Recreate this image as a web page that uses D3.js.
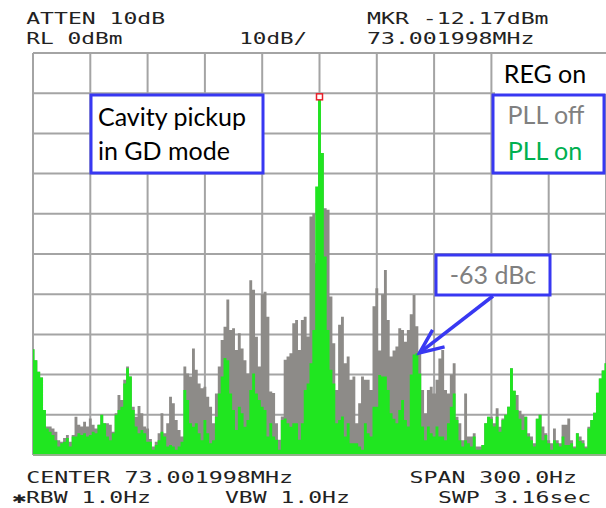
<!DOCTYPE html>
<html>
<head>
<meta charset="utf-8">
<script src="https://cdn.jsdelivr.net/npm/d3@7"></script>
<style>
  body { margin: 0; background: #fff; }
  svg { display: block; }
</style>
</head>
<body>
<svg id="chart"></svg>
<script>
// trace levels in dBm, 201 sweep points across the 300 Hz span
const pllOff = [
  -73.7, -76.4, -79.3, -80.7, -88.8, -92.9, -92.9, -93.4, -94.2, -96.3,
  -96.7, -95.8, -95.0, -96.7, -95.0, -90.5, -92.5, -92.9, -91.7, -92.9,
  -90.9, -92.5, -93.4, -92.5, -90.0, -92.1, -92.1, -92.5, -94.2, -89.6,
  -85.1, -86.3, -81.3, -78.0, -80.5, -88.0, -90.5, -87.8, -89.6, -92.9,
  -93.4, -96.0, -97.9, -96.7, -94.6, -89.6, -94.6, -92.1, -85.5, -87.1,
  -91.3, -93.8, -95.4, -78.0, -79.7, -80.5, -73.5, -78.8, -82.2, -83.4,
  -83.0, -85.5, -88.0, -92.1, -84.7, -78.0, -71.4, -68.1, -61.3, -68.9,
  -68.5, -73.9, -69.7, -73.5, -76.4, -79.7, -56.5, -58.9, -70.6, -78.0,
  -60.0, -59.4, -65.6, -84.2, -84.6, -92.1, -96.2, -90.4, -76.3, -75.5,
  -74.7, -67.2, -66.4, -73.9, -66.4, -65.6, -70.5, -40.7, -39.9, -52.3,
  -10.9, -24.9, -38.6, -39.0, -60.6, -72.2, -83.8, -67.6, -65.6, -77.2,
  -75.5, -81.3, -80.5, -92.1, -87.1, -80.5, -81.3, -81.3, -83.8, -63.0,
  -58.5, -74.0, -60.0, -54.0, -66.4, -75.5, -74.0, -73.0, -68.5, -68.9,
  -71.8, -68.9, -65.0, -60.2, -68.0, -74.3, -83.8, -89.6, -83.8, -83.0,
  -84.7, -81.3, -76.0, -73.9, -83.8, -84.7, -80.0, -77.2, -90.5, -92.1,
  -96.3, -84.7, -95.4, -95.4, -94.6, -97.9, -97.9, -97.5, -92.1, -90.5,
  -90.5, -92.1, -88.4, -93.0, -90.9, -90.0, -88.0, -78.4, -84.0, -85.1,
  -89.0, -90.0, -90.5, -94.6, -95.4, -97.1, -91.0, -90.0, -92.9, -94.6,
  -96.3, -97.1, -93.4, -96.3, -97.1, -92.5, -92.5, -90.9, -96.3, -97.9,
  -94.6, -95.4, -96.3, -97.9, -93.0, -91.3, -89.5, -84.5, -81.0, -79.0,
  -77.2
];

const pllOn = [
  -73.7, -76.4, -79.3, -80.7, -88.8, -93.4, -94.2, -95.0, -96.3, -97.9,
  -97.1, -96.7, -95.8, -97.9, -95.4, -95.4, -94.6, -95.0, -94.6, -95.4,
  -95.0, -94.2, -94.6, -92.5, -90.0, -92.1, -95.4, -96.3, -94.6, -90.0,
  -88.8, -88.0, -82.2, -78.4, -80.5, -88.8, -92.9, -94.6, -93.8, -94.6,
  -96.7, -96.7, -98.7, -97.5, -96.3, -94.2, -95.4, -97.9, -97.5, -97.9,
  -98.7, -97.9, -96.7, -83.8, -86.3, -92.1, -93.0, -92.1, -94.6, -96.3,
  -91.3, -94.6, -97.1, -96.3, -90.5, -84.7, -80.5, -75.9, -76.4, -84.7,
  -88.8, -93.8, -88.0, -89.6, -93.0, -91.3, -83.8, -79.7, -84.7, -86.3,
  -88.0, -88.8, -95.4, -92.1, -95.4, -96.2, -98.7, -91.3, -90.9, -92.1,
  -93.0, -92.1, -92.1, -96.2, -92.1, -83.8, -82.2, -77.2, -68.9, -33.2,
  -10.9, -24.9, -50.6, -68.9, -78.8, -82.2, -92.1, -91.3, -90.4, -95.4,
  -92.1, -97.1, -97.1, -97.1, -97.9, -98.7, -92.1, -94.6, -95.4, -88.0,
  -88.0, -80.1, -80.5, -80.5, -83.8, -89.6, -91.0, -92.1, -88.8, -86.3,
  -91.3, -92.9, -80.0, -75.0, -74.7, -79.7, -92.9, -96.3, -92.9, -94.6,
  -95.4, -92.9, -95.4, -95.4, -96.3, -92.1, -88.0, -84.7, -91.3, -96.3,
  -97.9, -96.3, -97.1, -97.9, -95.4, -98.7, -98.7, -97.5, -92.1, -90.5,
  -91.0, -92.9, -90.5, -94.2, -91.3, -90.0, -88.0, -78.4, -84.0, -88.8,
  -91.0, -93.8, -90.5, -95.4, -96.3, -97.9, -91.0, -90.0, -96.3, -95.0,
  -97.1, -98.7, -96.3, -97.1, -97.9, -95.4, -97.5, -97.5, -97.1, -98.3,
  -94.6, -96.5, -97.1, -98.3, -93.4, -91.3, -89.5, -84.5, -81.0, -79.0,
  -77.2
];

const span = 300;          // Hz
const refLevel = 0;        // dBm
const dbPerDiv = 10;
const divisions = 10;

const headerTop = [
  { text: "ATTEN 10dB", col: 1, line: 0 },
  { text: "MKR -12.17dBm", col: 25, line: 0 },
  { text: "RL 0dBm", col: 1, line: 1 },
  { text: "10dB/", col: 16, line: 1 },
  { text: "73.001998MHz", col: 25, line: 1 }
];
const headerBottom = [
  { text: "CENTER 73.001998MHz", col: 1, line: 0 },
  { text: "SPAN 300.0Hz", col: 28, line: 0 },
  { text: "\u2731RBW 1.0Hz", col: 0, line: 1 },
  { text: "VBW 1.0Hz", col: 15, line: 1 },
  { text: "SWP 3.16sec", col: 30, line: 1 }
];

const width = 606, height = 508;
const plot = { left: 33, right: 606, top: 53, bottom: 455 };

const svg = d3.select("#chart")
  .attr("width", width)
  .attr("height", height);

const freqs = pllOn.map((d, i) => -span / 2 + i * span / (pllOn.length - 1));

const x = d3.scaleLinear()
  .domain([-span / 2, span / 2])
  .range([plot.left, plot.right]);

const y = d3.scaleLinear()
  .domain([refLevel - dbPerDiv * divisions, refLevel])
  .range([plot.bottom, plot.top]);

// grid
const grid = svg.append("g").attr("class", "grid");
grid.selectAll("line.v")
  .data(d3.range(divisions + 1).map(k => -span / 2 + k * span / divisions))
  .join("line")
  .attr("class", "v")
  .attr("x1", d => x(d)).attr("x2", d => x(d))
  .attr("y1", plot.top).attr("y2", plot.bottom)
  .attr("stroke", "#a4a4a4").attr("stroke-width", 2);
grid.selectAll("line.h")
  .data(d3.range(divisions + 1).map(k => refLevel - k * dbPerDiv))
  .join("line")
  .attr("class", "h")
  .attr("x1", plot.left).attr("x2", plot.right)
  .attr("y1", d => y(d)).attr("y2", d => y(d))
  .attr("stroke", "#a4a4a4").attr("stroke-width", 2);

// traces, filled down to the bottom of the screen
const area = d3.area()
  .x((d, i) => x(freqs[i]))
  .y0(y(refLevel - dbPerDiv * divisions))
  .y1(d => y(d))
  .curve(d3.curveStep);

svg.append("path")
  .datum(pllOff)
  .attr("d", area)
  .attr("fill", "#8d8b88");

svg.append("path")
  .datum(pllOn)
  .attr("d", area)
  .attr("fill", "#20e620");

// bottom edge of the screen
svg.append("line")
  .attr("x1", plot.left).attr("x2", plot.right)
  .attr("y1", plot.bottom).attr("y2", plot.bottom)
  .attr("stroke", "#93b08a").attr("stroke-width", 2);

// marker on the carrier
const peakIdx = d3.maxIndex(pllOn);
svg.append("rect")
  .attr("x", x(freqs[peakIdx]) - 3)
  .attr("y", y(pllOn[peakIdx]) - 3)
  .attr("width", 6).attr("height", 6)
  .attr("fill", "#fff")
  .attr("stroke", "#e8202a").attr("stroke-width", 1.5);

// analyzer header / footer text
const cell = 14.2;
function header(list, base) {
  svg.append("g").selectAll("text")
    .data(list)
    .join("text")
    .attr("x", d => 12 + d.col * cell)
    .attr("y", d => base + d.line * 20)
    .attr("textLength", d => d.text.length * cell - 3)
    .attr("lengthAdjust", "spacingAndGlyphs")
    .attr("font-family", "DejaVu Sans Mono, monospace")
    .attr("font-size", 15)
    .attr("fill", "#222")
    .text(d => d.text);
}
header(headerTop, 24);
header(headerBottom, 483);

// annotations
const blue = "#3838f2";
const font = "Lato, 'Open Sans', sans-serif";
const fs = 25;

svg.append("rect")
  .attr("x", 91).attr("y", 95).attr("width", 172).attr("height", 78)
  .attr("fill", "#fff").attr("stroke", blue).attr("stroke-width", 3);
svg.append("text")
  .attr("x", 98).attr("y", 126)
  .attr("font-family", font).attr("font-size", fs).attr("fill", "#000")
  .text("Cavity pickup");
svg.append("text")
  .attr("x", 98).attr("y", 160)
  .attr("font-family", font).attr("font-size", fs).attr("fill", "#000")
  .text("in GD mode");

svg.append("rect")
  .attr("x", 495).attr("y", 54).attr("width", 111).attr("height", 40)
  .attr("fill", "#fff");
svg.append("text")
  .attr("x", 545).attr("y", 83).attr("text-anchor", "middle")
  .attr("font-family", font).attr("font-size", fs).attr("fill", "#000")
  .text("REG on");

svg.append("rect")
  .attr("x", 493).attr("y", 95).attr("width", 111).attr("height", 78)
  .attr("fill", "#fff").attr("stroke", blue).attr("stroke-width", 3);
svg.append("text")
  .attr("x", 546).attr("y", 124).attr("text-anchor", "middle")
  .attr("font-family", font).attr("font-size", fs).attr("fill", "#808080")
  .text("PLL off");
svg.append("text")
  .attr("x", 545).attr("y", 160).attr("text-anchor", "middle")
  .attr("font-family", font).attr("font-size", fs).attr("fill", "#00b050")
  .text("PLL on");

svg.append("rect")
  .attr("x", 436).attr("y", 255).attr("width", 114).attr("height", 40)
  .attr("fill", "#fff").attr("stroke", blue).attr("stroke-width", 3);
svg.append("text")
  .attr("x", 493).attr("y", 284).attr("text-anchor", "middle")
  .attr("font-family", font).attr("font-size", fs).attr("fill", "#808080")
  .text("-63 dBc");

// arrow pointing at the sideband
const tip = [x(52.4), y(-74.6)];
svg.append("path")
  .attr("d", `M493,296 L${tip[0]},${tip[1]}`)
  .attr("stroke", blue).attr("stroke-width", 3.5).attr("fill", "none");
svg.append("path")
  .attr("d", `M${tip[0] + 13},${tip[1] - 23} L${tip[0]},${tip[1]} L${tip[0] + 25},${tip[1] - 6}`)
  .attr("stroke", blue).attr("stroke-width", 3.5).attr("fill", "none")
  .attr("stroke-linejoin", "miter");
</script>
</body>
</html>
